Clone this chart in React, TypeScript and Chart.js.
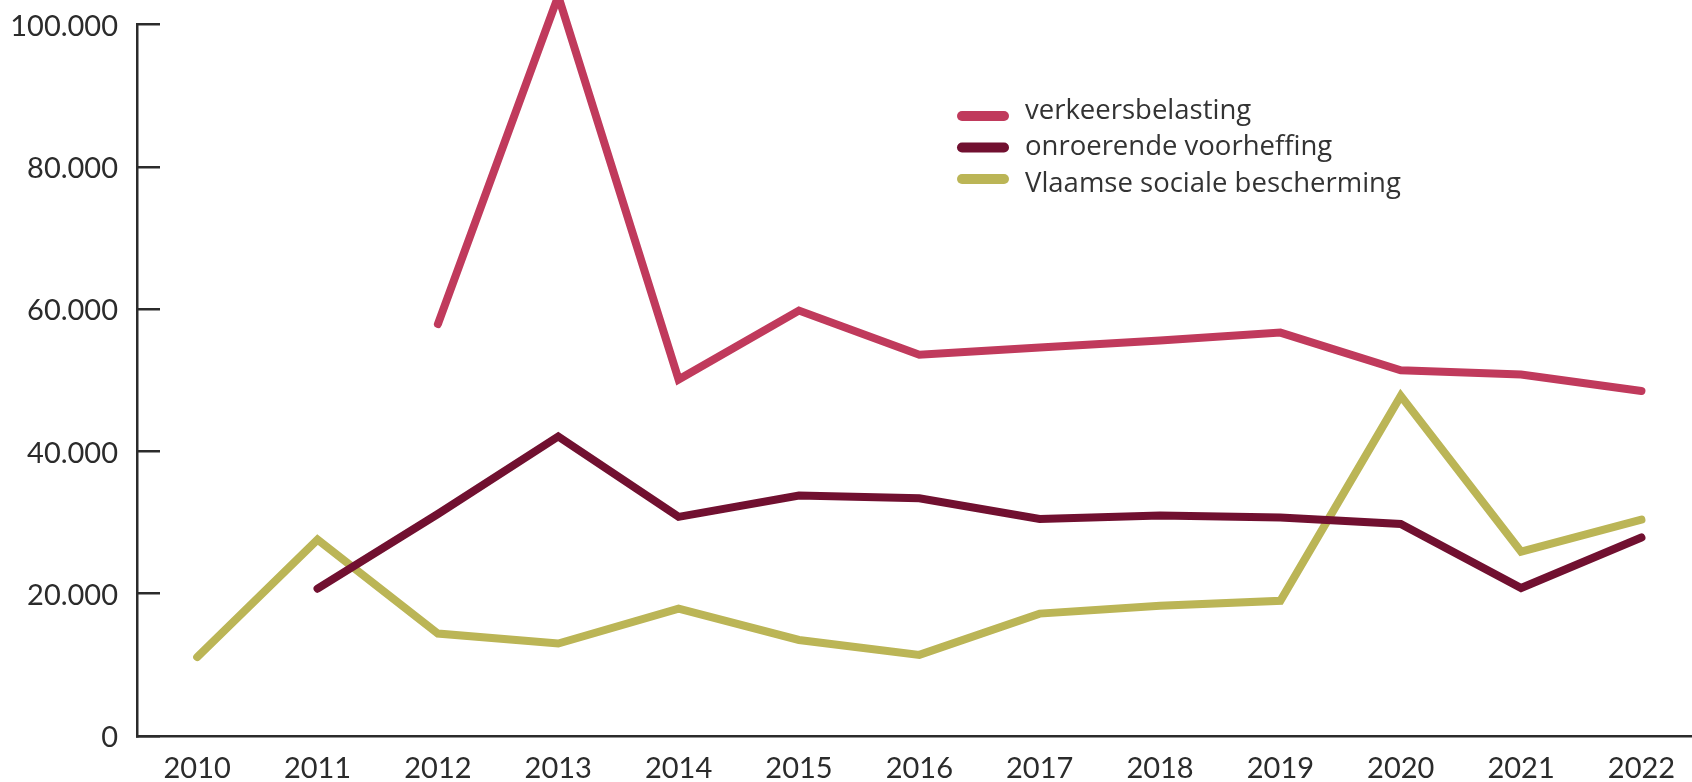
import React, { useEffect, useRef } from "react";
import { Chart, registerables } from "chart.js";

Chart.register(...registerables);

const years = [2010, 2011, 2012, 2013, 2014, 2015, 2016, 2017, 2018, 2019, 2020, 2021, 2022];
const verkeersbelasting = [null, null, 57900, 104000, 50100, 59800, 53600, 54600, 55600, 56700, 51400, 50800, 48500];
const onroerendeVoorheffing = [null, 20700, 31200, 42100, 30800, 33800, 33400, 30500, 31000, 30700, 29800, 20800, 27900];
const vlaamseSocialeBescherming = [11100, 27600, 14400, 13000, 17900, 13500, 11400, 17200, 18300, 19000, 47800, 25900, 30400];
const yTicks = [0, 20000, 40000, 60000, 80000, 100000];

const seriesNames = ["verkeersbelasting", "onroerende voorheffing", "Vlaamse sociale bescherming"];
const seriesColors = ["#c03a5c", "#711030", "#bbb556"];

const fmt = (v: number) => String(Math.round(v)).replace(/\B(?=(\d{3})+(?!\d))/g, ".");

const legendPlugin = {
  id: "customLegend",
  afterDraw(chart: any) {
    const ctx = chart.ctx;
    const x0 = 962;
    const x1 = 1004;
    const tx = 1025;
    const swatchY = [116, 147.5, 179];
    const textY = [118.5, 155, 191.5];
    ctx.save();
    chart.data.datasets.forEach((ds: any, i: number) => {
      ctx.beginPath();
      ctx.lineCap = "round";
      ctx.lineWidth = 10;
      ctx.strokeStyle = ds.borderColor;
      ctx.moveTo(x0, swatchY[i]);
      ctx.lineTo(x1, swatchY[i]);
      ctx.stroke();
      ctx.fillStyle = "#333333";
      ctx.font = "27.5px 'Open Sans'";
      ctx.textBaseline = "alphabetic";
      ctx.textAlign = "left";
      ctx.fillText(ds.label, tx, textY[i]);
    });
    ctx.restore();
  },
};

export default function App() {
  const ref = useRef<HTMLCanvasElement | null>(null);
  useEffect(() => {
    if (!ref.current) return;
    const series = [verkeersbelasting, onroerendeVoorheffing, vlaamseSocialeBescherming];
    const chart = new Chart(ref.current, {
      type: "line",
      data: {
        datasets: series.map((vals, i) => ({
          label: seriesNames[i],
          data: years.map((y, j) => ({ x: y, y: vals[j] })),
          borderColor: seriesColors[i],
          backgroundColor: seriesColors[i],
          borderWidth: 8,
          borderCapStyle: "round",
          borderJoinStyle: "miter",
          pointRadius: 0,
          pointHoverRadius: 0,
          tension: 0,
          clip: false,
          spanGaps: false,
        })) as any,
      },
      options: {
        animation: false,
        responsive: true,
        maintainAspectRatio: false,
        layout: { padding: { top: 24.5, left: 0, right: 0, bottom: 0 } },
        plugins: {
          legend: { display: false },
          tooltip: { enabled: false },
        },
        scales: {
          x: {
            type: "linear",
            min: 2009.5,
            max: 2022.42,
            afterBuildTicks: (scale: any) => {
              scale.ticks = years.map((v) => ({ value: v }));
            },
            afterFit: (scale: any) => {
              scale.height = 46;
              scale.paddingLeft = 0;
              scale.paddingRight = 0;
            },
            grid: { display: false, drawTicks: false },
            border: { display: true, color: "#2b2b2b", width: 2.5 },
            ticks: {
              padding: 15,
              color: "#2b2b2b",
              font: { family: "Lato", size: 29, weight: "400" as any },
              callback: (v: any) => String(v),
              maxRotation: 0,
              autoSkip: false,
            },
          },
          y: {
            min: 0,
            max: 100000,
            afterBuildTicks: (scale: any) => {
              scale.ticks = yTicks.map((v) => ({ value: v }));
            },
            afterFit: (scale: any) => {
              scale.width = 137;
              scale.paddingTop = 0;
              scale.paddingBottom = 0;
            },
            grid: {
              drawOnChartArea: false,
              drawTicks: true,
              tickLength: -23,
              color: "#2b2b2b",
              lineWidth: 2.5,
            },
            border: { display: true, color: "#2b2b2b", width: 2.5 },
            ticks: {
              padding: 42,
              labelOffset: 2,
              color: "#2b2b2b",
              font: { family: "Lato", size: 29, weight: "400" as any },
              callback: (v: any) => fmt(Number(v)),
            },
          },
        },
      },
      plugins: [legendPlugin],
    });
    return () => chart.destroy();
  }, []);
  return (
    <div style={{ position: "fixed", left: 0, top: 0, width: 1692, height: 782, background: "#ffffff" }}>
      <canvas ref={ref} />
    </div>
  );
}
